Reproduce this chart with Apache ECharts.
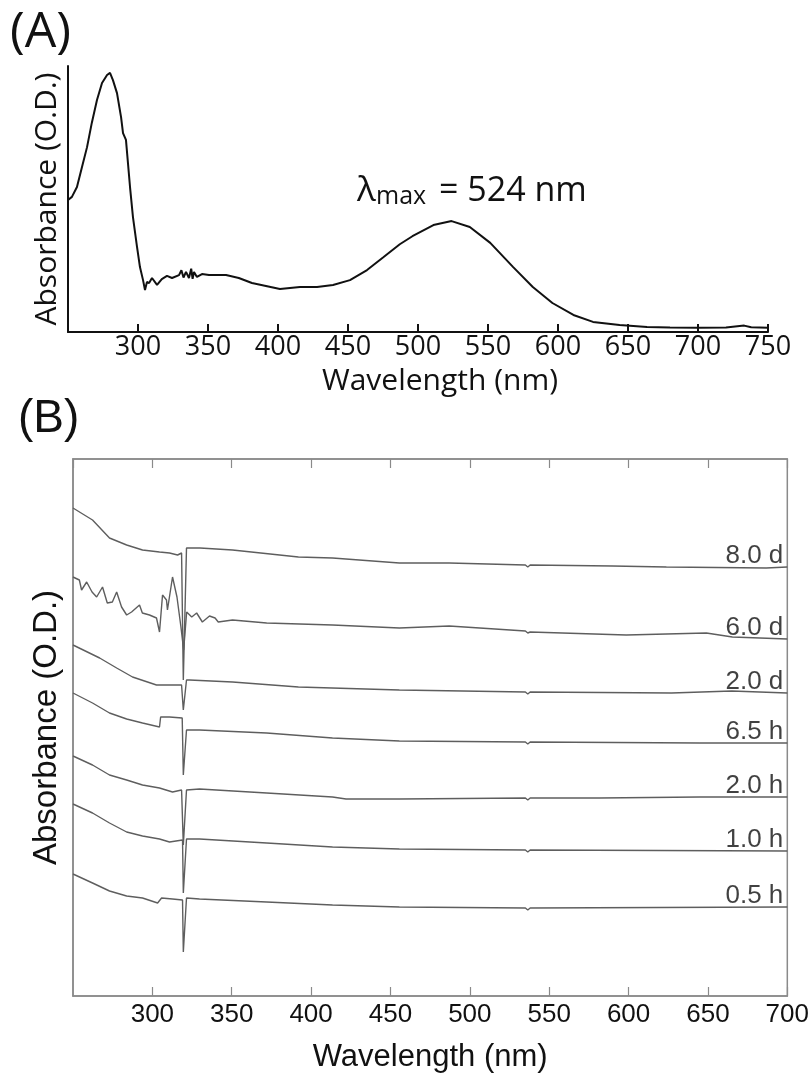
<!DOCTYPE html>
<html>
<head>
<meta charset="utf-8">
<script src="https://cdn.jsdelivr.net/npm/echarts@6/dist/echarts.min.js"></script>
<style>
html,body{margin:0;padding:0;background:#fff;}
#chart{width:812px;height:1082px;}
</style>
</head>
<body>
<div id="chart"></div>
<script>
// ---------- Panel A data: [wavelength nm, absorbance (normalized)] ----------
const spectrumA = [
[250,0.496],[252.8,0.508],[256.4,0.545],[260,0.62],[263.6,0.695],[267,0.786],[270.7,0.872],[274.3,0.936],
[277.9,0.966],[280,0.974],[282.1,0.947],[285,0.898],[287.9,0.808],[289.3,0.748],[291.4,0.722],[294.3,0.545],
[296.4,0.432],[299.3,0.32],[301.4,0.244],[303.6,0.195],[305,0.158],[306.4,0.188],[307.9,0.184],[310,0.203],
[313.6,0.177],[317,0.199],[320.7,0.211],[324.3,0.203],[329.3,0.214],[331,0.232],[332.5,0.205],[334.3,0.226],
[336.4,0.203],[338,0.238],[339,0.2],[340,0.226],[342.1,0.207],[345.7,0.218],[350.7,0.214],[362.9,0.214],
[372,0.203],[381.4,0.184],[391.4,0.173],[401.4,0.162],[415.7,0.169],[427.9,0.169],[439.3,0.177],[451.4,0.195],
[463.6,0.233],[475,0.28],[487,0.33],[496,0.36],[511,0.402],[524,0.417],[537,0.395],[551.6,0.335],[568,0.244],
[582,0.169],[596,0.109],[611,0.064],[625,0.038],[644,0.026],[663.6,0.019],[680,0.017],[700,0.016],[720,0.017],
[733,0.024],[738,0.018],[750,0.016]
];
const ticksA = [300,350,400,450,500,550,600,650,700,750];

// ---------- Panel B data: offset spectra ----------
const labelsB = ['8.0 d','6.0 d','2.0 d','6.5 h','2.0 h','1.0 h','0.5 h'];
const s8d = [[250,4.88],[262.3,4.76],[273,4.58],[283.8,4.51],[293.8,4.46],[304.5,4.44],[310.8,4.43],[315.9,4.41],[318.4,4.43],[319.5,3.16],[320.6,3.16],[321.5,4.48],[330,4.48],[350.5,4.46],[392,4.39],[413.5,4.38],[455.6,4.33],[487,4.33],[535,4.31],[536.5,4.29],[538,4.31],[589.8,4.30],[623.8,4.29],[686.7,4.28],[700,4.29]];
const s6d = [[250,4.19],[254,4.16],[255.4,4.06],[258.6,4.14],[262,4.04],[264.9,3.99],[268.6,4.09],[271.6,3.93],[274.8,3.94],[277.5,4.04],[280.6,3.89],[283.8,3.81],[286.9,3.84],[291.9,3.91],[293.7,3.83],[298.2,3.81],[302.6,3.78],[304.5,3.64],[306.4,4.01],[308.9,3.96],[309.5,3.86],[312.7,4.19],[315.5,3.99],[318,3.69],[319.7,3.46],[321.6,3.84],[324.8,3.79],[327.9,3.83],[331.5,3.74],[336,3.80],[339.5,3.78],[341.5,3.74],[350.5,3.76],[372,3.73],[413.5,3.71],[455.6,3.68],[487,3.70],[535,3.65],[536.5,3.63],[538,3.64],[598.6,3.61],[649,3.63],[665.4,3.59],[700,3.57]];
const s2d = [[250,3.51],[266.8,3.38],[277.5,3.28],[287.5,3.19],[302.6,3.11],[312.7,3.11],[318.4,3.11],[319.5,2.86],[320.6,2.86],[321.5,3.16],[323.4,3.16],[350.5,3.14],[392,3.09],[455.6,3.06],[535,3.04],[536.5,3.02],[538,3.04],[627,3.03],[665,3.05],[700,3.03]];
const s65h = [[250,3.03],[262.3,2.93],[273,2.83],[283.8,2.77],[293.8,2.73],[304.5,2.69],[305.2,2.79],[310.8,2.79],[318.8,2.78],[319.5,2.21],[320.6,2.21],[321.5,2.66],[329.7,2.66],[372,2.63],[413.5,2.58],[455.6,2.55],[535,2.54],[536.5,2.52],[538,2.54],[644.6,2.53],[700,2.53]];
const s2h = [[250,2.40],[262.3,2.31],[273,2.21],[283.8,2.16],[293.8,2.11],[304.5,2.08],[312.7,2.04],[318.4,2.06],[319.5,1.51],[320.6,1.51],[321.5,2.06],[329.7,2.07],[372,2.03],[413.5,1.99],[422,1.97],[455.6,1.97],[535,1.98],[536.5,1.96],[538,1.98],[581.6,1.98],[644.6,1.99],[700,1.99]];
const s1h = [[250,1.92],[262.3,1.83],[273,1.73],[283.8,1.64],[293.8,1.60],[304.5,1.57],[310.8,1.54],[319,1.56],[319.5,1.03],[320.6,1.03],[321.5,1.57],[329.7,1.57],[372,1.53],[413.5,1.49],[455.6,1.47],[535,1.46],[536.5,1.44],[538,1.46],[700,1.45]];
const s05h = [[250,1.22],[262.3,1.13],[273,1.05],[283.8,1.00],[293.8,0.98],[303.3,0.93],[305.8,0.98],[312.7,0.97],[319,0.96],[319.5,0.44],[320.6,0.44],[321.5,0.98],[329.7,0.97],[372,0.94],[413.5,0.91],[455.6,0.89],[535,0.88],[536.5,0.86],[538,0.88],[700,0.89]];
const seriesB = [s8d, s6d, s2d, s65h, s2h, s1h, s05h];

const fontA = 'Open Sans';
const fontB = 'Liberation Sans';
const greyAxis = '#8a8a8a';
const greyLine = '#5e5e5e';

const chart = echarts.init(document.getElementById('chart'), null, {renderer:'canvas'});

const series = [{
  type:'line', xAxisIndex:0, yAxisIndex:0, data:spectrumA, showSymbol:false,
  lineStyle:{color:'#111', width:2}, itemStyle:{color:'#111'}, silent:true
}];
seriesB.forEach((d,i)=>{
  series.push({
    type:'line', xAxisIndex:1, yAxisIndex:1, data:d, showSymbol:false,
    lineStyle:{color:greyLine, width:1.4}, itemStyle:{color:greyLine}, silent:true
  });
  series.push({
    type:'scatter', xAxisIndex:1, yAxisIndex:1, symbolSize:0, silent:true,
    data:[d[d.length-1]],
    label:{show:true, position:'top', align:'right', distance:0, offset:[-4,2],
      formatter:labelsB[i], fontFamily:fontB, fontSize:26, color:'#111'}
  });
});

chart.setOption({
  animation:false,
  backgroundColor:'#fff',
  grid:[
    {left:68, top:66, width:700, height:266, containLabel:false},
    {left:73, top:459, width:715, height:537, containLabel:false,
     show:true, borderColor:greyAxis, borderWidth:1.5}
  ],
  xAxis:[
    {type:'value', gridIndex:0, min:250, max:750, interval:50,
     axisLine:{show:true, onZero:false, lineStyle:{color:'#111', width:2}},
     axisTick:{show:true, inside:true, length:8, lineStyle:{color:'#111', width:2}},
     axisLabel:{show:true, showMinLabel:false, margin:2, fontFamily:fontA, fontSize:27, color:'#111'},
     splitLine:{show:false},
     name:'Wavelength (nm)', nameLocation:'middle', nameGap:34,
     nameTextStyle:{fontFamily:fontA, fontSize:30, color:'#111', padding:[0,0,0,44]}},
    {type:'value', gridIndex:1, min:250, max:700, interval:50,
     axisLine:{show:true, onZero:false, lineStyle:{color:greyAxis, width:1.5}},
     axisTick:{show:true, inside:true, length:9, lineStyle:{color:greyAxis, width:1.2}},
     axisLabel:{show:true, showMinLabel:false, margin:6, fontFamily:fontB, fontSize:26, color:'#111'},
     splitLine:{show:false},
     name:'Wavelength (nm)', nameLocation:'middle', nameGap:46,
     nameTextStyle:{fontFamily:fontB, fontSize:31, color:'#111'}},
    {type:'value', gridIndex:1, position:'top', min:250, max:700, interval:50,
     axisLine:{show:true, onZero:false, lineStyle:{color:greyAxis, width:1.5}},
     axisTick:{show:true, inside:true, length:9, lineStyle:{color:greyAxis, width:1.2}},
     axisLabel:{show:false}, splitLine:{show:false}}
  ],
  yAxis:[
    {type:'value', gridIndex:0, min:0, max:1,
     axisLine:{show:true, onZero:false, lineStyle:{color:'#111', width:2}},
     axisTick:{show:false}, axisLabel:{show:false}, splitLine:{show:false},
     name:'Absorbance (O.D.)', nameLocation:'middle', nameGap:6,
     nameTextStyle:{fontFamily:fontA, fontSize:30, color:'#111'}},
    {type:'value', gridIndex:1, min:0, max:5.37,
     axisLine:{show:true, onZero:false, lineStyle:{color:greyAxis, width:1.5}},
     axisTick:{show:false}, axisLabel:{show:false}, splitLine:{show:false},
     name:'Absorbance (O.D.)', nameLocation:'middle', nameGap:10,
     nameTextStyle:{fontFamily:fontB, fontSize:33, color:'#111'}}
  ],
  graphic:[
    {type:'text', left:10, top:8, style:{text:'(A)', fontFamily:fontA, fontSize:50, fill:'#111'}},
    {type:'text', left:18, top:396, style:{text:'(B)', fontFamily:fontB, fontSize:46, fill:'#111'}},
    {type:'text', x:357, y:191, style:{text:'λ', fontFamily:fontA, fontSize:35, fill:'#111', verticalAlign:'middle'}},
    {type:'text', x:376, y:197, style:{text:'max', fontFamily:fontA, fontSize:25, fill:'#111', verticalAlign:'middle'}},
    {type:'text', x:439, y:191, style:{text:'= 524 nm', fontFamily:fontA, fontSize:34, fill:'#111', verticalAlign:'middle'}}
  ],
  series:series
});
</script>
</body>
</html>
